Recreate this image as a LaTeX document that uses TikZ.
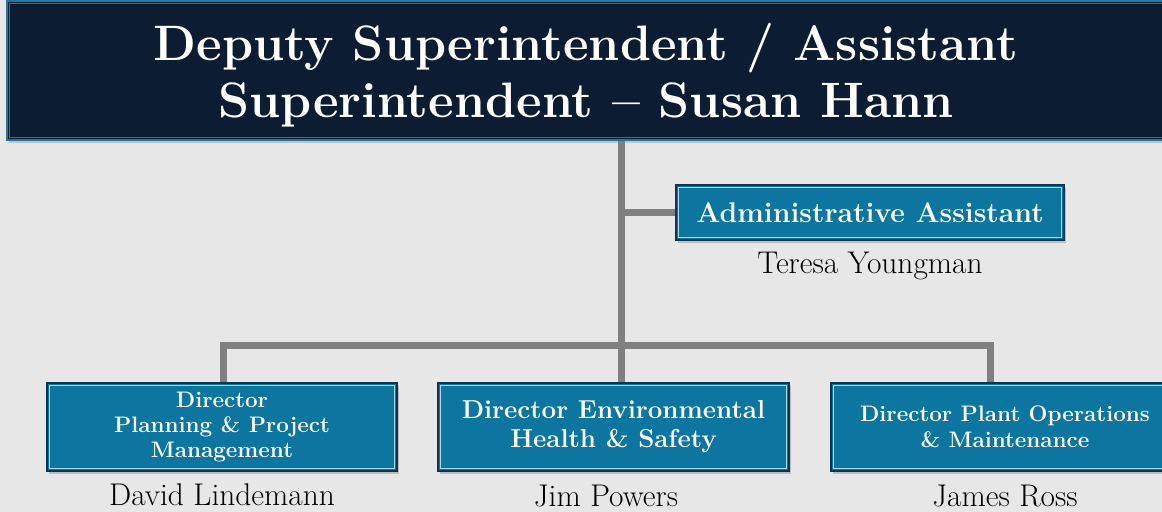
\documentclass[tikz,border=0pt]{standalone}
\usetikzlibrary{shadows}
\definecolor{bg}{HTML}{E7E7E7}
\definecolor{navy}{HTML}{0B1C33}
\definecolor{topedge}{HTML}{1F78A3}
\definecolor{boxblue}{HTML}{0D76A0}
\definecolor{boxedge}{HTML}{0D3450}
\definecolor{innerline}{HTML}{A9D9EC}
\definecolor{conngray}{HTML}{808080}
\begin{document}
\begin{tikzpicture}[x=1bp,y=-1bp,
  topbox/.style={fill=navy, draw=topedge, line width=2bp, text=white, align=center,
    inner sep=0pt, drop shadow={shadow xshift=2bp, shadow yshift=-3bp, opacity=0.35}},
  orgbox/.style={fill=boxblue, draw=boxedge, line width=1.5bp, text=white, align=center,
    inner sep=0pt, drop shadow={shadow xshift=2bp, shadow yshift=-3bp, opacity=0.4}},
  inline/.style={draw=innerline, line width=1bp},
  topinline/.style={draw=topedge, line width=1bp},
  conn/.style={draw=conngray, line width=7bp},
  person/.style={anchor=base, inner sep=0pt, font=\fontsize{31.5}{33}\selectfont}
]
\useasboundingbox (0,0) rectangle (1162,512);
\clip (0,0) rectangle (1162,512);
\fill[bg] (0,0) rectangle (1162,512);

% boxes
\node[topbox, minimum width=1165bp, minimum height=139bp] (top) at (589.5,71) {};
\node[text=white, align=center, inner sep=0pt,
  font=\fontsize{50}{57}\selectfont\bfseries] (title) at (586,75)
  {Deputy Superintendent / Assistant\\Superintendent – Susan Hann};
\draw[topinline] ([xshift=3.5bp,yshift=-3.5bp]top.north west) rectangle ([xshift=-3.5bp,yshift=3.5bp]top.south east);

\coordinate (trunk) at (621,0);
\coordinate (barL) at (223,346);
\coordinate (barR) at (990,346);

\node[orgbox, minimum width=388bp, minimum height=55bp,
  font=\fontsize{28.5}{30}\selectfont\bfseries] (adm) at (870,212.5) {Administrative Assistant};
\node[orgbox, minimum width=350bp, minimum height=88bp,
  font=\fontsize{22.5}{25}\selectfont\bfseries] (left) at (222,427) {Director\\Planning \& Project\\Management};
\node[orgbox, minimum width=351bp, minimum height=88bp,
  font=\fontsize{26}{29}\selectfont\bfseries] (mid) at (613.5,427) {Director Environmental\\Health \& Safety};
\node[orgbox, minimum width=348bp, minimum height=88bp,
  font=\fontsize{22.5}{26}\selectfont\bfseries] (right) at (1005,427) {Director Plant Operations\\\& Maintenance};

% connectors
\draw[conn] (top.south -| trunk) -- (trunk |- mid.north);
\draw[conn] (trunk |- adm.west) -- (adm.west);
\draw[conn] (barL |- left.north) -- (barL) -- (barR) -- (barR |- right.north);

% inner light lines
\foreach \b in {adm,left,mid,right}{
  \draw[inline] ([xshift=3bp,yshift=-3bp]\b.north west) rectangle ([xshift=-3bp,yshift=3bp]\b.south east);
}

% names
\node[person] (n0) at (870,274) {Teresa Youngman};
\node[person] (n1) at (222,505) {David Lindemann};
\node[person] (n2) at (606,506) {Jim Powers};
\node[person] (n3) at (1005,506) {James Ross};
\end{tikzpicture}
\end{document}
